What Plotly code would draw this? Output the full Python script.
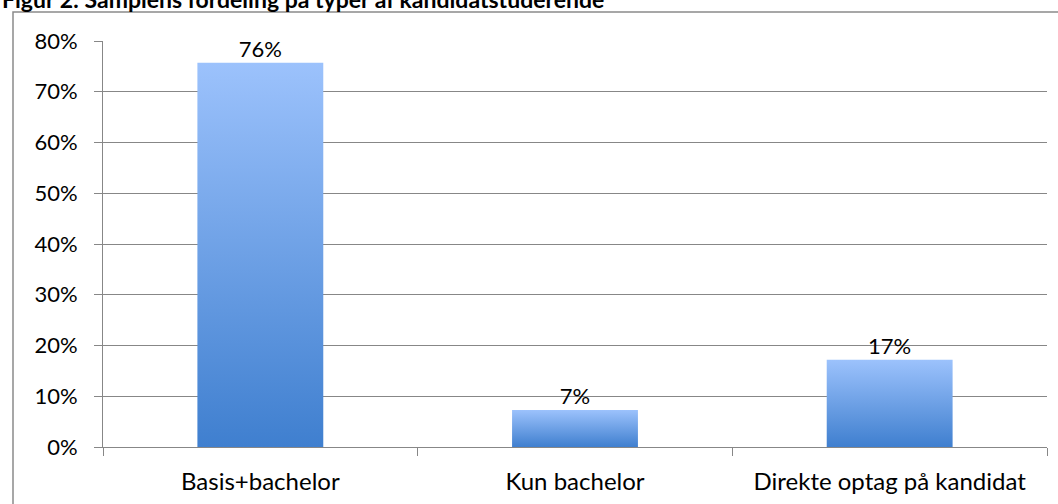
import plotly.graph_objects as go

categories = ["Basis+bachelor", "Kun bachelor", "Direkte optag på kandidat"]
shares = [0.757, 0.073, 0.172]
data_labels = ["76%", "7%", "17%"]
y_ticks = [0, 0.1, 0.2, 0.3, 0.4, 0.5, 0.6, 0.7, 0.8]
title_text = "Figur 2: Samplens fordeling på typer af kandidatstuderende"

W, H = 1058, 504
ML, MR, MT, MB = 103, 11, 41, 57
PW = W - ML - MR
PH = H - MT - MB

GRID = "#878787"
FONT = "Lato"
half = 0.2

fig = go.Figure()

for i, v in enumerate(shares):
    fig.add_trace(go.Scatter(
        x=[i - half, i - half, i + half, i + half, i - half],
        y=[0, v, v, 0, 0],
        mode="lines",
        fill="toself",
        line=dict(width=0),
        fillgradient=dict(type="vertical", start=0, stop=v,
                          colorscale=[[0, "#3f7fcf"], [1, "#9cc2fc"]]),
        hoverinfo="skip",
        showlegend=False,
    ))

fig.add_trace(go.Scatter(
    x=list(range(len(categories))),
    y=shares,
    text=data_labels,
    mode="text",
    textposition="top center",
    textfont=dict(family=FONT, size=22, color="#000000"),
    xaxis="x2",
    hoverinfo="skip",
    showlegend=False,
))

fig.update_layout(
    width=W, height=H,
    margin=dict(l=ML, r=MR, t=MT, b=MB, autoexpand=False),
    paper_bgcolor="white",
    plot_bgcolor="white",
    font=dict(family=FONT, size=22, color="#000000"),
    showlegend=False,
    xaxis=dict(
        range=[-0.5, len(categories) - 0.5],
        tickvals=[k - 0.5 for k in range(len(categories) + 1)],
        showticklabels=False, automargin=False,
        ticks="outside", ticklen=8, tickcolor=GRID, tickwidth=1,
        showline=True, linecolor=GRID, linewidth=1,
        showgrid=False, zeroline=False, fixedrange=True,
    ),
    xaxis2=dict(
        overlaying="x", anchor="y", side="bottom",
        range=[-0.5, len(categories) - 0.5],
        tickvals=list(range(len(categories))),
        ticktext=categories, automargin=False,
        ticks="outside", ticklen=13, tickcolor="rgba(0,0,0,0)",
        showline=False, showgrid=False, zeroline=False,
        tickfont=dict(family=FONT, size=24, color="#000000"),
    ),
    yaxis=dict(
        range=[0, 0.8],
        tickvals=y_ticks,
        tickformat=".0%", automargin=False,
        ticks="outside", ticklen=8, tickcolor=GRID, tickwidth=1,
        showline=True, linecolor=GRID, linewidth=1,
        showgrid=True, gridcolor=GRID, gridwidth=1,
        zeroline=False, ticklabelstandoff=12,
        tickfont=dict(family=FONT, size=22, color="#000000"),
    ),
)

# outer chart border (extends beyond the visible page at right and bottom)
fig.add_shape(
    type="rect", xref="paper", yref="paper",
    x0=(13 - ML) / PW, x1=(W + 5 - ML) / PW,
    y0=-(H + 5 - MT - PH) / PH, y1=(MT + PH - 12) / PH,
    line=dict(color="#8a8a8a", width=1.5),
    fillcolor="rgba(0,0,0,0)", layer="below",
)

fig.add_annotation(
    text="<b>" + title_text + "</b>",
    xref="paper", yref="paper",
    x=(0 - ML) / PW, y=(MT + PH - 15) / PH,
    xanchor="left", yanchor="bottom",
    showarrow=False,
    font=dict(family=FONT, size=23, color="#000000"),
)

fig.write_html(
    "out.html",
    config={"displayModeBar": False},
    post_script="document.body.style.margin='0';document.body.style.overflow='hidden';",
)
